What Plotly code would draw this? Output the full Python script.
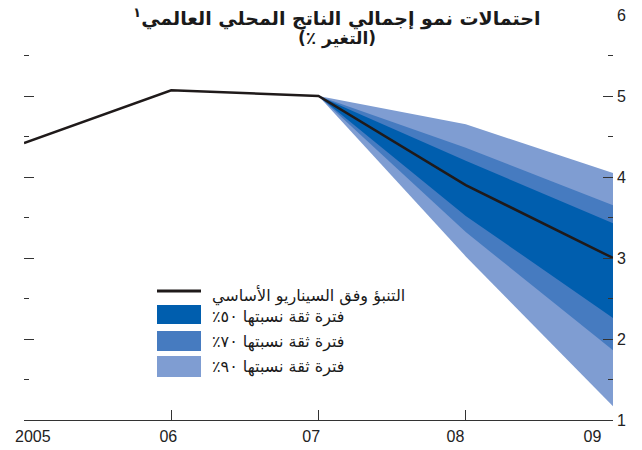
import plotly.graph_objects as go

# [Data]
YEARS = [2005, 2006, 2007, 2008, 2009]
YEAR_LABELS = ['2005', '06', '07', '08', '09']
BASELINE = [4.42, 5.07, 5.0, 3.90, 3.0]

# fan chart bands start at 2007
BAND_YEARS = [2007, 2008, 2009]
UPPER_90 = [5.0, 4.65, 4.05]
UPPER_70 = [5.0, 4.36, 3.65]
UPPER_50 = [5.0, 4.20, 3.43]
LOWER_50 = [5.0, 3.52, 2.26]
LOWER_70 = [5.0, 3.32, 1.86]
LOWER_90 = [5.0, 3.02, 1.17]

Y_TICKS = [1, 2, 3, 4, 5, 6]

TITLE_1 = 'احتمالات نمو إجمالي الناتج المحلي العالمي<sup>١</sup>'
TITLE_2 = '(التغير ٪)'
LEGEND_TEXT = [
    'التنبؤ وفق السيناريو الأساسي',
    'فترة ثقة نسبتها ٥٠٪',
    'فترة ثقة نسبتها ٧٠٪',
    'فترة ثقة نسبتها ٩٠٪',
]

# year labels in the original sit a little off their ticks
LABEL_POS = [2005.06, 2005.98, 2006.95, 2007.93, 2008.86]

# colours
C_50 = '#005eae'
C_70 = '#467bc0'
C_90 = '#7f9dd2'
C_LINE = '#1f1a1a'
C_AXIS = '#333333'

RLE, PDF = '\u202b', '\u202c'  # force right-to-left runs in svg text

W, H = 642, 450
M = dict(l=24, r=29, t=15, b=30)


def px_x(x):
    return (x - M['l']) / (W - M['l'] - M['r'])


def px_y(y):
    return (H - M['b'] - y) / (H - M['t'] - M['b'])


fig = go.Figure()

# bands, widest first
for upper, lower, colour in [(UPPER_90, LOWER_90, C_90),
                             (UPPER_70, LOWER_70, C_70),
                             (UPPER_50, LOWER_50, C_50)]:
    fig.add_trace(go.Scatter(
        x=BAND_YEARS + BAND_YEARS[::-1],
        y=upper + lower[::-1],
        fill='toself', fillcolor=colour,
        mode='lines', line=dict(width=0),
        hoverinfo='skip', showlegend=False,
    ))

fig.add_trace(go.Scatter(
    x=YEARS, y=BASELINE, mode='lines',
    line=dict(color=C_LINE, width=2.5),
    showlegend=False,
))

# invisible trace so the right axis and the label axis get drawn
fig.add_trace(go.Scatter(x=[YEARS[0]], y=[Y_TICKS[0]], xaxis='x2', yaxis='y2',
                         mode='markers', marker=dict(opacity=0),
                         hoverinfo='skip', showlegend=False))

axis_font = dict(family='Liberation Sans', size=16, color='#222222')

fig.update_layout(
    width=W, height=H, margin=M,
    paper_bgcolor='white', plot_bgcolor='white',
    xaxis=dict(
        range=[2005, 2009], tickvals=YEARS, showticklabels=False,
        ticks='inside', ticklen=10, tickcolor=C_AXIS, tickwidth=1,
        showline=True, linecolor=C_AXIS, linewidth=1,
        showgrid=False, zeroline=False, automargin=False,
    ),
    xaxis2=dict(
        range=[2005, 2009], overlaying='x', side='bottom',
        tickvals=LABEL_POS, ticktext=YEAR_LABELS, ticks='',
        ticklabelstandoff=5,
        showline=False, showgrid=False, zeroline=False,
        tickfont=axis_font, automargin=False,
    ),
    yaxis=dict(
        range=[1, 6], tickvals=Y_TICKS, showticklabels=False,
        ticks='inside', ticklen=10, tickcolor=C_AXIS, tickwidth=1,
        minor=dict(ticks='inside', ticklen=5, dtick=0.5, tickcolor=C_AXIS,
                   showgrid=False),
        showline=False, showgrid=False, zeroline=False, automargin=False,
    ),
    yaxis2=dict(
        range=[1, 6], tickvals=Y_TICKS, overlaying='y', side='right',
        ticks='inside', ticklen=10, tickcolor=C_AXIS, tickwidth=1,
        minor=dict(ticks='inside', ticklen=5, dtick=0.5, tickcolor=C_AXIS,
                   showgrid=False),
        ticklabelstandoff=3,
        showline=False, showgrid=False, zeroline=False,
        tickfont=axis_font, automargin=False,
    ),
)

# title
fig.add_annotation(text='<b>' + RLE + TITLE_1 + PDF + '</b>', xref='paper', yref='paper',
                   x=px_x(543), y=px_y(17), xanchor='right', yanchor='middle',
                   showarrow=False,
                   font=dict(family='DejaVu Sans', size=19, color='#1a1a1a'))
fig.add_annotation(text='<b>' + RLE + TITLE_2 + PDF + '</b>', xref='paper', yref='paper',
                   x=px_x(378), y=px_y(39), xanchor='right', yanchor='middle',
                   showarrow=False,
                   font=dict(family='DejaVu Sans', size=17, color='#1a1a1a'))

# legend drawn by hand
fig.add_shape(type='line', xref='paper', yref='paper',
              x0=px_x(157), x1=px_x(201), y0=px_y(291), y1=px_y(291),
              line=dict(color=C_LINE, width=3))
boxes = [(C_50, 305, 324), (C_70, 331, 351), (C_90, 356, 377)]
for colour, y0, y1 in boxes:
    fig.add_shape(type='rect', xref='paper', yref='paper',
                  x0=px_x(157), x1=px_x(201), y0=px_y(y1), y1=px_y(y0),
                  fillcolor=colour, line=dict(width=0))

legend_font = dict(family='DejaVu Sans', size=16, color='#1a1a1a')
for text, yc in zip(LEGEND_TEXT, [296, 317, 342, 367]):
    fig.add_annotation(text=RLE + text + PDF, xref='paper', yref='paper',
                       x=px_x(210), y=px_y(yc), xanchor='left', yanchor='middle',
                       showarrow=False, font=legend_font)

# the page's default body margin would push the chart 8px down and right
fig.write_html('out.html', config={'displayModeBar': False},
               post_script="document.body.style.margin='0';")
